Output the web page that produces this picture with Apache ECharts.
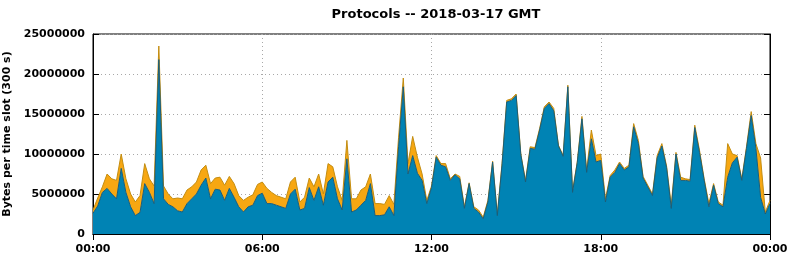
<!DOCTYPE html>
<html>
<head>
<meta charset="utf-8">
<script src="https://cdn.jsdelivr.net/npm/echarts@6/dist/echarts.min.js"></script>
<style>
html,body{margin:0;padding:0;background:#fff;}
#c{width:792px;height:259px;}
</style>
</head>
<body>
<div id="c"></div>
<script>
// 10-minute samples, values in millions of bytes per 300 s slot
const UNIT = 1e6;
const blueValues = [
2.6,3.5,5.2,5.7,5.0,4.4,8.2,5.2,3.4,2.3,2.7,6.3,5.2,3.8,21.8,4.4,3.7,3.4,2.9,2.75,
3.8,4.4,5.0,6.1,7.0,4.4,5.6,5.5,4.2,5.7,4.6,3.4,2.75,3.4,3.6,4.8,5.1,3.8,3.8,3.6,
3.4,3.2,5.0,5.6,3.0,3.2,5.8,4.2,5.9,3.6,6.5,7.1,4.4,3.0,9.4,2.75,3.0,3.6,4.2,6.3,
2.3,2.3,2.4,3.4,2.3,10.9,18.4,7.5,9.8,7.6,6.7,3.8,5.8,9.6,8.6,8.4,6.7,7.4,6.9,3.2,
6.3,3.2,2.75,1.9,4.0,9.0,2.3,8.6,16.5,16.7,17.3,9.9,6.5,10.7,10.6,13.0,15.7,16.3,15.4,11.0,
9.7,18.4,5.2,8.9,14.4,7.7,11.9,9.0,9.2,4.0,7.1,7.7,8.8,8.0,8.4,13.4,11.3,7.0,5.9,4.8,
9.5,11.0,8.3,3.2,10.0,6.7,6.7,6.6,13.3,10.2,6.7,3.4,6.1,3.8,3.4,7.1,8.9,9.6,6.7,10.7,
14.8,10.7,4.6,2.5,3.8
];
const orangeValues = [
0.4,1.0,0.7,1.8,1.9,2.3,1.8,1.7,1.6,1.7,2.1,2.5,1.7,2.2,1.7,1.6,1.3,1.0,1.6,1.65,
1.7,1.5,1.5,1.9,1.6,1.9,1.4,1.6,1.9,1.5,1.7,1.4,1.45,1.2,1.3,1.4,1.4,1.9,1.4,1.2,
1.2,1.2,1.5,1.5,1.0,1.4,1.2,1.7,1.6,1.4,2.3,1.3,1.5,1.2,2.3,1.65,1.4,1.9,1.7,1.2,
1.5,1.5,1.3,1.4,1.4,1.2,1.1,1.3,2.4,2.0,0.8,0.4,0.2,0.2,0.2,0.4,0.2,0.1,0.3,0.2,
0.1,0.2,0.25,0.2,0.2,0.1,0.2,0.2,0.2,0.2,0.2,0.1,0.2,0.2,0.2,0.2,0.2,0.2,0.3,0.1,
0.1,0.2,0.2,0.1,0.3,0.3,1.1,0.8,0.8,0.4,0.2,0.3,0.2,0.2,0.2,0.4,0.4,0.2,0.2,0.2,
0.3,0.3,0.2,0.4,0.2,0.4,0.2,0.2,0.3,0.3,0.2,0.4,0.2,0.2,0.2,4.2,1.1,0.2,0.2,0.2,
0.5,0.6,4.9,0.25,0.4
];
const yTicks = [0, 5000000, 10000000, 15000000, 20000000, 25000000];
const titleText = 'Protocols -- 2018-03-17 GMT';
const yName = 'Bytes per time slot (300 s)';

const categories = [];
for (let i = 0; i < blueValues.length; i++) {
  const m = (i * 10) % 1440;
  const hh = String(Math.floor(m / 60)).padStart(2, '0');
  const mm = String(m % 60).padStart(2, '0');
  categories.push(hh + ':' + mm);
}

const FONT = 'DejaVu Sans';
const chart = echarts.init(document.getElementById('c'), null, {renderer: 'canvas'});
const gridLine = {show: true, lineStyle: {color: '#a8a8a8', width: 1, type: [1, 3]}};
const tickStyle = {show: true, inside: true, length: 6, lineStyle: {color: '#000', width: 1}};
const yBase = {
  type: 'value', min: yTicks[0], max: yTicks[yTicks.length - 1],
  interval: yTicks[1] - yTicks[0],
  axisLine: {show: true, lineStyle: {color: '#000', width: 1}},
  axisTick: tickStyle
};
chart.setOption({
  animation: false,
  backgroundColor: '#fff',
  title: {
    text: titleText, left: 431, top: 3, textAlign: 'center',
    textStyle: {fontFamily: FONT, fontWeight: 'bold', fontSize: 13, color: '#000'}
  },
  grid: {left: 93, right: 22, top: 34, bottom: 25, show: true, borderColor: '#000', borderWidth: 1,
         containLabel: false, outerBoundsMode: 'none'},
  xAxis: [
    {
      type: 'category', data: categories, boundaryGap: false, position: 'bottom',
      axisLine: {show: true, lineStyle: {color: '#000', width: 1}},
      axisTick: Object.assign({interval: 35}, tickStyle),
      axisLabel: {interval: 35, margin: 10, fontFamily: FONT, fontWeight: 'bold', fontSize: 11, color: '#000'},
      splitLine: Object.assign({interval: 35}, gridLine)
    },
    {
      type: 'category', data: categories, boundaryGap: false, position: 'top',
      axisLine: {show: true, lineStyle: {color: '#000', width: 1}},
      axisTick: Object.assign({interval: 35}, tickStyle),
      axisLabel: {show: false}, splitLine: {show: false}
    }
  ],
  yAxis: [
    Object.assign({}, yBase, {
      position: 'left',
      name: yName, nameLocation: 'middle', nameGap: 76, nameRotate: 90,
      nameTextStyle: {fontFamily: FONT, fontWeight: 'bold', fontSize: 11, color: '#000'},
      axisLabel: {margin: 8, fontFamily: FONT, fontWeight: 'bold', fontSize: 11, color: '#000',
                  formatter: v => String(v)},
      splitLine: gridLine
    }),
    Object.assign({}, yBase, {position: 'right', axisLabel: {show: false}, splitLine: {show: false}})
  ],
  series: [
    {
      name: 'blue', type: 'line', stack: 'total', xAxisIndex: 0, yAxisIndex: 0,
      data: blueValues.map(v => v * UNIT), showSymbol: false, symbol: 'none',
      lineStyle: {color: '#1b5d78', width: 1},
      areaStyle: {color: '#0083b4', opacity: 1}, z: 2
    },
    {
      name: 'orange', type: 'line', stack: 'total', xAxisIndex: 0, yAxisIndex: 0,
      data: orangeValues.map(v => v * UNIT), showSymbol: false, symbol: 'none',
      lineStyle: {color: '#c48d10', width: 1},
      areaStyle: {color: '#f7a712', opacity: 1}, z: 1
    }
  ]
});
</script>
</body>
</html>
